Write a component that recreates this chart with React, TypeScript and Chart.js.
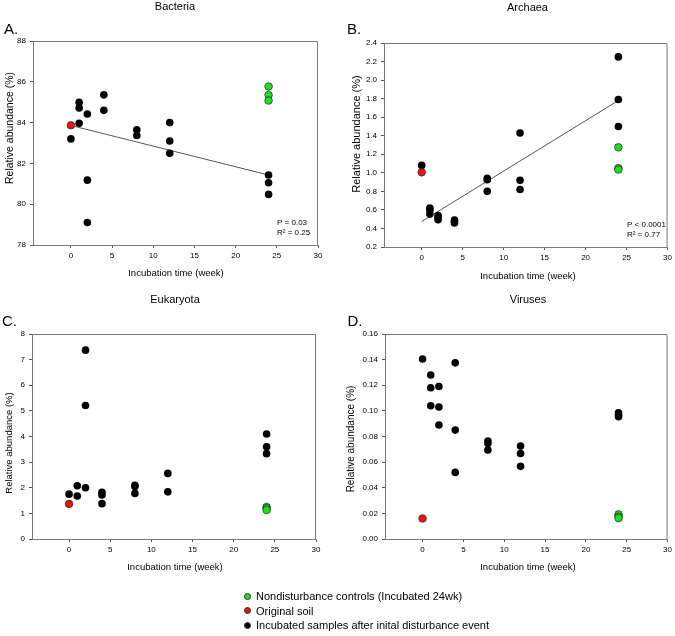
import React, { useEffect, useRef } from "react";
import { Chart, registerables } from "chart.js";

Chart.register(...registerables);

// ---------- data ----------
const xTickValues = [0, 5, 10, 15, 20, 25, 30];

const bacteriaYTicks = [78, 80, 82, 84, 86, 88];
const bacteriaIncX = [0, 1, 1, 1, 2, 2, 2, 4, 4, 8, 8, 12, 12, 12, 24, 24, 24];
const bacteriaIncY = [83.2, 85.0, 84.72, 83.97, 84.42, 81.18, 79.1, 85.36, 84.6, 83.65, 83.37, 84.0, 83.1, 82.5, 81.43, 81.05, 80.48];
const bacteriaSoilX = [0];
const bacteriaSoilY = [83.87];
const bacteriaCtrlX = [24, 24, 24];
const bacteriaCtrlY = [85.77, 85.35, 85.08];
const bacteriaFitX = [0, 24];
const bacteriaFitY = [83.86, 81.43];
const bacteriaStats = ["P = 0.03", "R² = 0.25"];

const archaeaYTicks = [0.2, 0.4, 0.6, 0.8, 1.0, 1.2, 1.4, 1.6, 1.8, 2.0, 2.2, 2.4];
const archaeaIncX = [0, 1, 1, 1, 2, 2, 2, 4, 4, 4, 8, 8, 8, 12, 12, 12, 24, 24, 24];
const archaeaIncY = [1.08, 0.62, 0.6, 0.555, 0.54, 0.52, 0.495, 0.49, 0.475, 0.46, 0.94, 0.925, 0.8, 1.43, 0.92, 0.82, 2.25, 1.79, 1.5];
const archaeaSoilX = [0];
const archaeaSoilY = [1.005];
const archaeaCtrlX = [24, 24, 24];
const archaeaCtrlY = [1.275, 1.05, 1.035];
const archaeaFitX = [0, 24];
const archaeaFitY = [0.475, 1.78];
const archaeaStats = ["P < 0.0001", "R² = 0.77"];

const eukaryotaYTicks = [0, 1, 2, 3, 4, 5, 6, 7, 8];
const eukaryotaIncX = [0, 1, 1, 2, 2, 2, 4, 4, 4, 8, 8, 8, 12, 12, 24, 24, 24];
const eukaryotaIncY = [1.75, 2.08, 1.68, 7.37, 5.21, 2.0, 1.82, 1.72, 1.38, 2.1, 2.05, 1.78, 2.56, 1.84, 4.1, 3.6, 3.33];
const eukaryotaSoilX = [0];
const eukaryotaSoilY = [1.37];
const eukaryotaCtrlX = [24, 24, 24];
const eukaryotaCtrlY = [1.25, 1.2, 1.13];

const virusesYTicks = [0, 0.02, 0.04, 0.06, 0.08, 0.1, 0.12, 0.14, 0.16];
const virusesIncX = [0, 1, 1, 1, 2, 2, 2, 4, 4, 4, 8, 8, 8, 12, 12, 12, 24, 24, 24];
const virusesIncY = [0.1405, 0.128, 0.118, 0.104, 0.119, 0.103, 0.089, 0.1375, 0.085, 0.052, 0.0765, 0.0745, 0.0695, 0.0725, 0.0667, 0.0567, 0.0985, 0.097, 0.0955];
const virusesSoilX = [0];
const virusesSoilY = [0.016];
const virusesCtrlX = [24, 24, 24];
const virusesCtrlY = [0.0192, 0.0175, 0.0163];

const legendLabels = [
  "Nondisturbance controls (Incubated 24wk)",
  "Original soil",
  "Incubated samples after inital disturbance event",
];
const xAxisTitle = "Incubation time (week)";
const yAxisTitle = "Relative abundance (%)";

// ---------- styles ----------
const FONT = '"Liberation Sans", Arial, Helvetica, sans-serif';
const GREEN = "#1ee11e";
const RED = "#ee1111";
const BLACK = "#000000";
const legendColors = [GREEN, RED, BLACK];
const FRAME = "#7a7a7a";
const TICK = "#555555";
const FIT = "#555555";
const PT_R = 3.8;

type XY = { x: number[]; y: number[] };
type Panel = {
  title: string;
  letter: string;
  canvas: { left: number; top: number; width: number; height: number };
  area: { left: number; top: number; right: number; bottom: number };
  xMin: number;
  yTicks: number[];
  decimals: number;
  inc: XY;
  soil: XY;
  ctrl: XY;
  fit?: XY;
  stats?: string[];
  titlePos: [number, number];
  letterPos: [number, number];
  xTitlePos: [number, number];
  yTitlePos: [number, number];
  yTitleSize: number;
  statsPos?: [number, number];
};

const panels: Panel[] = [
  {
    title: "Bacteria",
    letter: "A.",
    canvas: { left: 0, top: 0, width: 337, height: 290 },
    area: { left: 33, top: 41, right: 318, bottom: 245 },
    xMin: -4.6,
    yTicks: bacteriaYTicks,
    decimals: 0,
    inc: { x: bacteriaIncX, y: bacteriaIncY },
    soil: { x: bacteriaSoilX, y: bacteriaSoilY },
    ctrl: { x: bacteriaCtrlX, y: bacteriaCtrlY },
    fit: { x: bacteriaFitX, y: bacteriaFitY },
    stats: bacteriaStats,
    titlePos: [175, 7],
    letterPos: [4, 30],
    xTitlePos: [176, 273],
    yTitlePos: [10, 128],
    yTitleSize: 10.5,
    statsPos: [277, 223],
  },
  {
    title: "Archaea",
    letter: "B.",
    canvas: { left: 337, top: 0, width: 338, height: 290 },
    area: { left: 47, top: 43, right: 332, bottom: 247 },
    xMin: -4.6,
    yTicks: archaeaYTicks,
    decimals: 1,
    inc: { x: archaeaIncX, y: archaeaIncY },
    soil: { x: archaeaSoilX, y: archaeaSoilY },
    ctrl: { x: archaeaCtrlX, y: archaeaCtrlY },
    fit: { x: archaeaFitX, y: archaeaFitY },
    stats: archaeaStats,
    titlePos: [190.5, 8],
    letterPos: [10, 30],
    xTitlePos: [191, 276],
    yTitlePos: [20, 134],
    yTitleSize: 11,
    statsPos: [290, 225],
  },
  {
    title: "Eukaryota",
    letter: "C.",
    canvas: { left: 0, top: 290, width: 337, height: 300 },
    area: { left: 32, top: 44, right: 316, bottom: 249 },
    xMin: -4.5,
    yTicks: eukaryotaYTicks,
    decimals: 0,
    inc: { x: eukaryotaIncX, y: eukaryotaIncY },
    soil: { x: eukaryotaSoilX, y: eukaryotaSoilY },
    ctrl: { x: eukaryotaCtrlX, y: eukaryotaCtrlY },
    titlePos: [175, 9.5],
    letterPos: [2, 32],
    xTitlePos: [175, 277.5],
    yTitlePos: [9.5, 153],
    yTitleSize: 9.5,
  },
  {
    title: "Viruses",
    letter: "D.",
    canvas: { left: 337, top: 290, width: 338, height: 300 },
    area: { left: 48, top: 44, right: 332, bottom: 249 },
    xMin: -4.6,
    yTicks: virusesYTicks,
    decimals: 2,
    inc: { x: virusesIncX, y: virusesIncY },
    soil: { x: virusesSoilX, y: virusesSoilY },
    ctrl: { x: virusesCtrlX, y: virusesCtrlY },
    titlePos: [191, 9.5],
    letterPos: [10.5, 32],
    xTitlePos: [191, 277.5],
    yTitlePos: [14, 149],
    yTitleSize: 10,
  },
];

const Y_AXIS_W = 28;
const X_AXIS_H = 20;

const zip = (d: XY) => d.x.map((x, i) => ({ x, y: d.y[i] }));

function makeOverlay(p: Panel) {
  return {
    id: "panelOverlay",
    afterDraw(chart: any) {
      const ctx: CanvasRenderingContext2D = chart.ctx;
      const a = chart.chartArea;
      ctx.save();
      // top and right frame lines
      ctx.strokeStyle = FRAME;
      ctx.lineWidth = 1;
      ctx.beginPath();
      ctx.moveTo(a.left, a.top + 0.5);
      ctx.lineTo(a.right - 0.5, a.top + 0.5);
      ctx.lineTo(a.right - 0.5, a.bottom + 1);
      ctx.stroke();

      ctx.fillStyle = "#000";
      ctx.textBaseline = "middle";
      // title
      ctx.textAlign = "center";
      ctx.font = `11px ${FONT}`;
      ctx.fillText(p.title, p.titlePos[0], p.titlePos[1]);
      // letter
      ctx.textAlign = "left";
      ctx.font = `15px ${FONT}`;
      ctx.fillText(p.letter, p.letterPos[0], p.letterPos[1]);
      // x title
      ctx.textAlign = "center";
      ctx.font = `9.5px ${FONT}`;
      ctx.fillText(xAxisTitle, p.xTitlePos[0], p.xTitlePos[1]);
      // y title
      ctx.save();
      ctx.translate(p.yTitlePos[0], p.yTitlePos[1]);
      ctx.rotate(-Math.PI / 2);
      ctx.font = `${p.yTitleSize}px ${FONT}`;
      ctx.fillText(yAxisTitle, 0, 0);
      ctx.restore();
      // stats
      if (p.stats && p.statsPos) {
        ctx.textAlign = "left";
        ctx.font = `8px ${FONT}`;
        p.stats.forEach((s, i) => {
          ctx.fillText(s, p.statsPos![0], p.statsPos![1] + i * 9.6);
        });
      }
      ctx.restore();
    },
  };
}

function PanelChart({ p }: { p: Panel }) {
  const ref = useRef<HTMLCanvasElement>(null);
  useEffect(() => {
    const { width, height } = p.canvas;
    const datasets: any[] = [
      {
        label: legendLabels[0],
        data: zip(p.ctrl),
        backgroundColor: GREEN,
        borderColor: "#222",
        borderWidth: 0.7,
        pointRadius: PT_R,
        pointHoverRadius: PT_R,
      },
      {
        label: legendLabels[1],
        data: zip(p.soil),
        backgroundColor: RED,
        borderColor: "#222",
        borderWidth: 0.7,
        pointRadius: PT_R,
        pointHoverRadius: PT_R,
      },
      {
        label: legendLabels[2],
        data: zip(p.inc),
        backgroundColor: BLACK,
        borderColor: BLACK,
        borderWidth: 0,
        pointRadius: PT_R,
        pointHoverRadius: PT_R,
      },
    ];
    if (p.fit) {
      datasets.push({
        label: "fit",
        data: zip(p.fit),
        showLine: true,
        borderColor: FIT,
        borderWidth: 1,
        backgroundColor: "transparent",
        pointRadius: 0,
        pointHoverRadius: 0,
      });
    }
    const yMin = p.yTicks[0];
    const yMax = p.yTicks[p.yTicks.length - 1];
    const chart = new Chart(ref.current as HTMLCanvasElement, {
      type: "scatter",
      data: { datasets },
      options: {
        animation: false,
        responsive: false,
        maintainAspectRatio: false,
        devicePixelRatio: 1,
        events: [],
        layout: {
          padding: {
            left: p.area.left - Y_AXIS_W,
            top: p.area.top,
            right: width - p.area.right,
            bottom: height - p.area.bottom - X_AXIS_H,
          },
        },
        plugins: {
          legend: { display: false },
          tooltip: { enabled: false },
          title: { display: false },
        },
        scales: {
          x: {
            type: "linear",
            min: p.xMin,
            max: 30,
            afterBuildTicks: (s: any) => {
              s.ticks = xTickValues.map((v) => ({ value: v }));
            },
            afterFit: (s: any) => {
              s.height = X_AXIS_H;
            },
            grid: { drawOnChartArea: false, tickLength: 3, color: TICK, tickColor: TICK },
            border: { color: FRAME, width: 1 },
            ticks: {
              autoSkip: false,
              maxRotation: 0,
              padding: 3,
              color: "#000",
              font: { family: FONT, size: 8 },
              callback: (v: any) => String(v),
            },
          },
          y: {
            type: "linear",
            min: yMin,
            max: yMax,
            afterBuildTicks: (s: any) => {
              s.ticks = p.yTicks.map((v) => ({ value: v }));
            },
            afterFit: (s: any) => {
              s.width = Y_AXIS_W;
            },
            grid: { drawOnChartArea: false, tickLength: 3, color: TICK, tickColor: TICK },
            border: { color: FRAME, width: 1 },
            ticks: {
              autoSkip: false,
              padding: 4,
              color: "#000",
              font: { family: FONT, size: 8 },
              callback: (v: any) => Number(v).toFixed(p.decimals),
            },
          },
        },
      } as any,
      plugins: [makeOverlay(p)],
    });
    return () => chart.destroy();
  }, []);
  return (
    <div
      style={{
        position: "absolute",
        left: p.canvas.left,
        top: p.canvas.top,
        width: p.canvas.width,
        height: p.canvas.height,
      }}
    >
      <canvas
        ref={ref}
        width={p.canvas.width}
        height={p.canvas.height}
        style={{ width: p.canvas.width, height: p.canvas.height, display: "block" }}
      />
    </div>
  );
}

export default function App() {
  return (
    <div
      style={{
        position: "absolute",
        left: 0,
        top: 0,
        width: 675,
        height: 636,
        background: "#fff",
        overflow: "hidden",
      }}
    >
      {panels.map((p) => (
        <PanelChart key={p.letter} p={p} />
      ))}
      <div style={{ position: "absolute", left: 243, top: 589, fontFamily: FONT, fontSize: 11, color: "#000" }}>
        {legendLabels.map((lab, i) => (
          <div key={lab} style={{ display: "flex", alignItems: "center", height: 14.6, whiteSpace: "nowrap" }}>
            <span
              style={{
                display: "inline-block",
                width: 5,
                height: 5,
                borderRadius: "50%",
                background: legendColors[i],
                border: "0.5px solid #333",
                marginRight: 5,
                marginLeft: 1,
              }}
            />
            <span>{lab}</span>
          </div>
        ))}
      </div>
    </div>
  );
}
